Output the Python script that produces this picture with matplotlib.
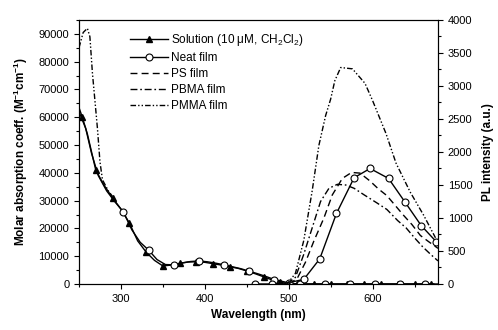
import matplotlib
matplotlib.use("Agg")
import matplotlib.pyplot as plt
from matplotlib.ticker import MultipleLocator

plt.rcParams['font.family'] = ['Liberation Sans', 'DejaVu Sans']
plt.rcParams['mathtext.fontset'] = 'custom'
plt.rcParams['mathtext.rm'] = 'Liberation Sans'
plt.rcParams['mathtext.it'] = 'Liberation Sans:italic'
plt.rcParams['mathtext.bf'] = 'Liberation Sans:bold'

# ---- absorption (left axis) ----
sol_abs_wl = [250, 254, 260, 265, 270, 280, 290, 300, 310, 320, 330, 340, 350, 360, 370,
              380, 390, 400, 410, 420, 430, 440, 450, 460, 470, 480, 490, 500, 510, 520,
              530, 540, 550, 560, 570, 580, 590, 600, 610, 620, 630, 640, 650, 660, 670, 678]
sol_abs = [63500, 60000, 54000, 47500, 41000, 35500, 31000, 27000, 22000, 15500, 11500, 8500,
           6500, 6800, 7400, 7900, 8000, 7800, 7300, 6800, 6200, 5600, 4700, 3700, 2600, 1500,
           600, 0, 0, 0, 0, 0, 0, 0, 0, 0, 0, 0, 0, 0, 0, 0, 0, 0, 0, 0]
sol_marks = [1, 4, 6, 8, 10, 12, 14, 16, 18, 20, 22, 24, 26, 28, 30, 32, 34, 36, 38, 40, 42, 44]

neat_abs_wl = [250, 258, 265, 273, 283, 293, 303, 313, 323, 333, 343, 353, 363, 373, 383, 393,
               403, 413, 423, 433, 443, 453, 463, 473, 483, 493, 503, 513, 523, 533, 543, 553,
               563, 573, 583, 593, 603, 613, 623, 633, 643, 653, 663, 673]
neat_abs = [62000, 56000, 47000, 39000, 33500, 29500, 25900, 19500, 15000, 12200, 8800, 7000,
            6900, 7600, 8100, 8300, 8000, 7500, 6900, 6200, 5500, 4600, 3700, 2700, 1600, 900,
            200, 0, 0, 0, 0, 0, 0, 0, 0, 0, 0, 0, 0, 0, 0, 0, 0, 0]
neat_marks = [6, 9, 12, 15, 18, 21, 24, 27, 30, 33, 36, 39, 42]

pmma_abs_wl = [250, 255, 260, 263, 266, 269, 272, 275, 278, 285, 290]
pmma_abs = [85000, 90500, 92000, 89000, 76000, 66000, 56000, 44000, 37500, 33500, 31500]

# ---- photoluminescence (right axis) ----
neat_pl_wl = [460, 480, 500, 518, 537, 557, 578, 597, 619, 639, 658, 676]
neat_pl = [0, 0, 20, 70, 380, 1070, 1610, 1750, 1600, 1235, 885, 640]

ps_pl_wl = [500, 510, 520, 530, 542, 552, 564, 575, 585, 597, 607, 617, 627, 637, 647, 657, 667, 678]
ps_pl = [0, 80, 330, 650, 1000, 1350, 1600, 1690, 1680, 1560, 1440, 1340, 1190, 1040, 900, 735, 640, 540]

pbma_pl_wl = [498, 508, 518, 528, 538, 548, 558, 568, 578, 590, 605, 617, 630, 640, 650, 660, 670, 678]
pbma_pl = [0, 100, 450, 850, 1250, 1450, 1510, 1500, 1450, 1350, 1230, 1130, 960, 850, 700, 560, 440, 350]

pmma_pl_wl = [495, 500, 508, 518, 528, 536, 544, 550, 555, 562, 576, 591, 600, 616, 628, 645, 661, 675]
pmma_pl = [0, 30, 160, 660, 1410, 2100, 2550, 2800, 3080, 3280, 3260, 3040, 2780, 2280, 1830, 1390, 1040, 700]

fig = plt.figure(figsize=(4.98, 3.30), dpi=100)
ax1 = fig.add_axes([0.1586, 0.1394, 0.7209, 0.8000])
ax2 = ax1.twinx()

lw = 1.0
h_sol, = ax1.plot(sol_abs_wl, sol_abs, color='black', lw=lw, marker='^', ms=4.5,
                  markevery=sol_marks, label='Solution (10 μM, CH$_2$Cl$_2$)')
h_neat, = ax1.plot(neat_abs_wl, neat_abs, color='black', lw=lw, marker='o', ms=5,
                   mfc='white', mec='black', mew=0.8, markevery=neat_marks, label='Neat film')
ax1.plot(pmma_abs_wl, pmma_abs, color='black', lw=lw, dashes=[4, 1.5, 1, 1.5, 1, 1.5])

ax2.plot(neat_pl_wl, neat_pl, color='black', lw=lw, marker='o', ms=5, mfc='white',
         mec='black', mew=0.8)
h_ps, = ax2.plot(ps_pl_wl, ps_pl, color='black', lw=lw, dashes=[5, 3], label='PS film')
h_pbma, = ax2.plot(pbma_pl_wl, pbma_pl, color='black', lw=lw, dashes=[5, 2, 1.2, 2],
                   label='PBMA film')
h_pmma, = ax2.plot(pmma_pl_wl, pmma_pl, color='black', lw=lw,
                   dashes=[4, 1.5, 1, 1.5, 1, 1.5], label='PMMA film')

ax1.set_xlim(250, 678)
ax1.set_ylim(0, 95000)
ax2.set_ylim(0, 4000)

ax1.xaxis.set_major_locator(MultipleLocator(100))
ax1.xaxis.set_minor_locator(MultipleLocator(50))
ax1.yaxis.set_major_locator(MultipleLocator(10000))
ax1.yaxis.set_minor_locator(MultipleLocator(5000))
ax2.yaxis.set_major_locator(MultipleLocator(500))
ax2.yaxis.set_minor_locator(MultipleLocator(250))

for ax in (ax1, ax2):
    ax.tick_params(which='major', direction='out', length=3.5, width=0.8, labelsize=8)
    ax.tick_params(which='minor', direction='out', length=2, width=0.8)
    for s in ax.spines.values():
        s.set_linewidth(0.8)

ax1.set_xlabel('Wavelength (nm)', fontsize=8.5, fontweight='bold', labelpad=4)
ax1.set_ylabel(r'Molar absorption coeff. (M$^{\mathbf{-1}}$cm$^{\mathbf{-1}}$)',
               fontsize=8.5, fontweight='bold', labelpad=6)
ax2.set_ylabel('PL intensity (a.u.)', fontsize=8.5, fontweight='bold', labelpad=7)

ax1.legend(handles=[h_sol, h_neat, h_ps, h_pbma, h_pmma], loc='upper left',
           bbox_to_anchor=(0.142, 0.955), frameon=False, fontsize=8.5,
           handlelength=3.2, handletextpad=0.3, labelspacing=0.35,
           borderpad=0, borderaxespad=0, numpoints=1)

fig.savefig('out.png', dpi=100)
